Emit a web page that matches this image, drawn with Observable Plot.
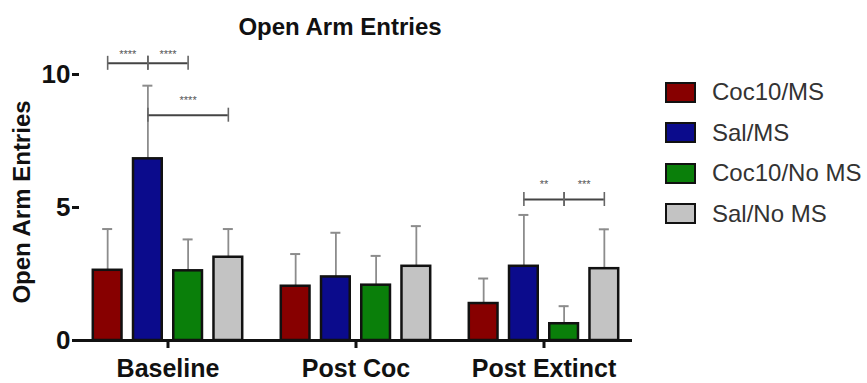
<!DOCTYPE html>
<html><head><meta charset="utf-8">
<script src="https://cdn.jsdelivr.net/npm/d3@7"></script>
<script src="https://cdn.jsdelivr.net/npm/@observablehq/plot@0.6"></script>
<style>
body{margin:0;background:#fff;font-family:"Liberation Sans",Arial,sans-serif;}
#wrap{position:relative;width:867px;height:383px;overflow:hidden;background:#fff;}
#chart{position:absolute;left:0;top:0;}
#title{position:absolute;left:340px;top:13px;transform:translateX(-50%);font-weight:bold;font-size:24px;white-space:nowrap;color:#111;}
#ylabel{position:absolute;left:22px;top:202px;transform:translate(-50%,-50%) rotate(-90deg);font-weight:bold;font-size:24px;white-space:nowrap;color:#111;}
#legend{position:absolute;left:665px;top:72px;}
.row{display:flex;align-items:center;height:40.5px;}
.sw{width:27px;height:17px;border:2px solid #111;margin-right:16px;box-sizing:content-box;}
.lab{font-size:24px;color:#333;}
</style></head>
<body>
<div id="wrap">
  <div id="chart"></div>
  <div id="title"></div>
  <div id="ylabel"></div>
  <div id="legend"></div>
</div>
<script>
const titleText = "Open Arm Entries";
const yLabelText = "Open Arm Entries";
const groups = ["Baseline", "Post Coc", "Post Extinct"];
const series = ["Coc10/MS", "Sal/MS", "Coc10/No MS", "Sal/No MS"];
const colors = ["#870000", "#0b0b8c", "#0a7f0a", "#c3c3c3"];
const yTicks = [0, 5, 10];

const baselineMeans = [2.64, 6.83, 2.62, 3.13];
const baselineErrors = [1.55, 2.75, 1.18, 1.06];
const postCocMeans = [2.04, 2.39, 2.08, 2.79];
const postCocErrors = [1.21, 1.66, 1.10, 1.51];
const postExtinctMeans = [1.39, 2.79, 0.63, 2.70];
const postExtinctErrors = [0.94, 1.93, 0.66, 1.48];

const bracketGroup = ["Baseline", "Baseline", "Baseline", "Post Extinct", "Post Extinct"];
const bracketFrom = ["Coc10/MS", "Sal/MS", "Sal/MS", "Sal/MS", "Coc10/No MS"];
const bracketTo = ["Sal/MS", "Coc10/No MS", "Sal/No MS", "Coc10/No MS", "Sal/No MS"];
const bracketY = [10.42, 10.42, 8.47, 5.30, 5.30];
const bracketStars = ["****", "****", "****", "**", "***"];

const meansByGroup = [baselineMeans, postCocMeans, postExtinctMeans];
const errorsByGroup = [baselineErrors, postCocErrors, postExtinctErrors];
const rows = groups.flatMap((g, gi) => series.map((s, si) => ({
  group: g, series: s, idx: si,
  value: meansByGroup[gi][si],
  top: meansByGroup[gi][si] + errorsByGroup[gi][si]
})));
const brackets = bracketGroup.map((g, i) => ({
  group: g,
  from: series.indexOf(bracketFrom[i]) + 0.5,
  to: series.indexOf(bracketTo[i]) + 0.5,
  y: bracketY[i],
  stars: bracketStars[i]
}));
const caps = brackets.flatMap(b => [{group: b.group, at: b.from, y: b.y}, {group: b.group, at: b.to, y: b.y}]);

const plot = Plot.plot({
  width: 650, height: 383,
  marginLeft: 79, marginRight: 17, marginTop: 74, marginBottom: 43,
  style: {fontFamily: "'Liberation Sans', Arial, sans-serif", color: "#111", background: "transparent"},
  fx: {domain: groups, paddingInner: 0.058, paddingOuter: 0, label: null},
  x: {domain: [-0.2, 4.2], axis: null},
  y: {domain: [0, 10], label: null},
  color: {domain: series, range: colors},
  marks: [
    Plot.ruleX(rows, {fx: "group", x: d => d.idx + 0.5, y1: "value", y2: "top", stroke: "#8c8c8c", strokeWidth: 1.8}),
    Plot.ruleY(rows, {fx: "group", x1: d => d.idx + 0.5, x2: d => d.idx + 0.5, y: "top", stroke: "#8c8c8c", strokeWidth: 2, insetLeft: -5, insetRight: -5}),
    Plot.rectY(rows, {fx: "group", x1: "idx", x2: d => d.idx + 1, y: "value", fill: "series", stroke: "#111", strokeWidth: 2.5, insetLeft: 5.75, insetRight: 5.75}),
    Plot.ruleY(groups.slice(0, 1), {fx: d => d, y: () => 0, stroke: "#111", strokeWidth: 3}),
    Plot.ruleY(groups.slice(1), {fx: d => d, y: () => 0, stroke: "#111", strokeWidth: 3, insetLeft: -12}),
    Plot.ruleY(brackets, {fx: "group", x1: "from", x2: "to", y: "y", stroke: "#444", strokeWidth: 2}),
    Plot.ruleX(caps, {fx: "group", x: "at", y1: "y", y2: "y", stroke: "#666", strokeWidth: 1.6, insetTop: -7, insetBottom: -7}),
    Plot.text(brackets.filter(b => b.y > 10), {fx: "group", x: d => (d.from + d.to) / 2, y: "y", text: "stars", dy: -9, fontSize: 11, fill: "#555"}),
    Plot.text(brackets.filter(b => b.y <= 10), {fx: "group", x: d => (d.from + d.to) / 2, y: "y", text: "stars", dy: -15, fontSize: 11, fill: "#555"}),
    Plot.axisY({ticks: yTicks, tickSize: 7, tickPadding: 2, fontSize: 26, fontWeight: "bold", strokeWidth: 3, line: true, label: null, tickFormat: d => String(d)}),
    Plot.axisFx({anchor: "bottom", tickSize: 8, tickPadding: 11, fontSize: 25, fontWeight: "bold", strokeWidth: 3, label: null})
  ]
});
document.getElementById("chart").appendChild(plot);
document.getElementById("title").textContent = titleText;
document.getElementById("ylabel").textContent = yLabelText;
const legend = document.getElementById("legend");
series.forEach((s, i) => {
  const row = document.createElement("div");
  row.className = "row";
  const sw = document.createElement("div");
  sw.className = "sw";
  sw.style.background = colors[i];
  const lab = document.createElement("div");
  lab.className = "lab";
  lab.textContent = s;
  row.appendChild(sw); row.appendChild(lab);
  legend.appendChild(row);
});
</script>
</body></html>
